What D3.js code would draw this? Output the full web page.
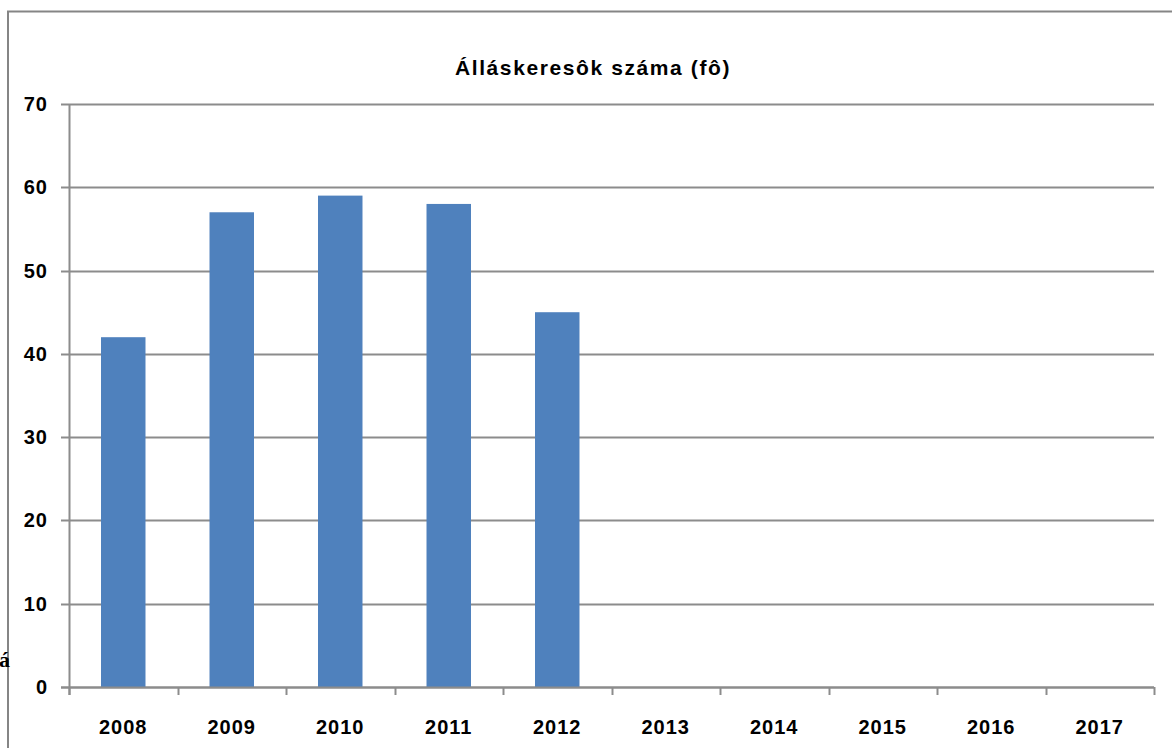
<!DOCTYPE html>
<html>
<head>
<meta charset="utf-8">
<script src="https://cdn.jsdelivr.net/npm/d3@7/dist/d3.min.js"></script>
<style>
  html, body { margin: 0; padding: 0; background: #fff; }
  svg { display: block; }
  .lbl { font-family: "Liberation Sans", Arial, sans-serif; font-weight: bold; fill: #000; }
</style>
</head>
<body>
<svg id="chart" width="1172" height="748"></svg>
<script>
const title = "Álláskeresôk száma (fô)";
const years = ["2008","2009","2010","2011","2012","2013","2014","2015","2016","2017"];
const values = [42, 57, 59, 58, 45, null, null, null, null, null];
const yTicks = [0, 10, 20, 30, 40, 50, 60, 70];

(function () {
const svg = d3.select("#chart");
const W = 1172, H = 748;
const pL = 69, pR = 1154, pT = 104, pB = 687;

// outer frame (partially visible)
svg.append("path")
  .attr("d", `M8,${H} L8,11.5 L${W},11.5`)
  .attr("fill", "none").attr("stroke", "#858585").attr("stroke-width", 2);

// stray character at the far left
svg.append("text").attr("x", -1).attr("y", 667)
  .attr("font-family", "Liberation Serif, serif").attr("font-size", 22)
  .attr("font-weight", "bold")
  .attr("fill", "#000").text("á");

const x = d3.scaleBand().domain(years).range([pL, pR])
  .paddingInner(0.59).paddingOuter(0.295);
const y = d3.scaleLinear().domain([0, 70]).range([pB, pT]);

// gridlines + y ticks
svg.append("g").selectAll("line").data(yTicks).join("line")
  .attr("x1", pL - 8).attr("x2", pR)
  .attr("y1", d => Math.round(y(d)) + 0.5).attr("y2", d => Math.round(y(d)) + 0.5)
  .attr("stroke", "#8c8c8c").attr("stroke-width", 2);

// y axis line
svg.append("line").attr("x1", pL + 0.5).attr("x2", pL + 0.5)
  .attr("y1", pT).attr("y2", pB + 8)
  .attr("stroke", "#8c8c8c").attr("stroke-width", 2);

// x ticks at band edges
const step = x.step();
const edges = d3.range(years.length + 1).map(i => pL + i * step);
svg.append("g").selectAll("line").data(edges).join("line")
  .attr("x1", d => Math.round(d) + 0.5).attr("x2", d => Math.round(d) + 0.5)
  .attr("y1", pB).attr("y2", pB + 8)
  .attr("stroke", "#8c8c8c").attr("stroke-width", 2);

// bars
svg.append("g").selectAll("rect").data(years.map((k, i) => ({k, v: values[i]})).filter(d => d.v != null))
  .join("rect")
  .attr("x", d => x(d.k))
  .attr("width", x.bandwidth())
  .attr("y", d => y(d.v))
  .attr("height", d => y(0) - y(d.v))
  .attr("fill", "#4f81bd");

// redraw baseline over bars
svg.append("line").attr("x1", pL - 8).attr("x2", pR)
  .attr("y1", Math.round(y(0)) + 0.5).attr("y2", Math.round(y(0)) + 0.5)
  .attr("stroke", "#8c8c8c").attr("stroke-width", 2);

// y labels
svg.append("g").selectAll("text").data(yTicks).join("text")
  .attr("class", "lbl")
  .attr("x", 48).attr("y", d => y(d))
  .attr("dy", "0.35em").attr("text-anchor", "end")
  .attr("font-size", 20).attr("letter-spacing", 1).text(d => d);

// x labels
svg.append("g").selectAll("text").data(years).join("text")
  .attr("class", "lbl")
  .attr("x", d => x(d) + x.bandwidth() / 2).attr("y", 734)
  .attr("text-anchor", "middle").attr("font-size", 20).attr("letter-spacing", 1)
  .text(d => d);

// title
svg.append("text").attr("class", "lbl")
  .attr("x", 593).attr("y", 75).attr("text-anchor", "middle")
  .attr("font-size", 21).attr("letter-spacing", 1.6).text(title);
})();
</script>
</body>
</html>
